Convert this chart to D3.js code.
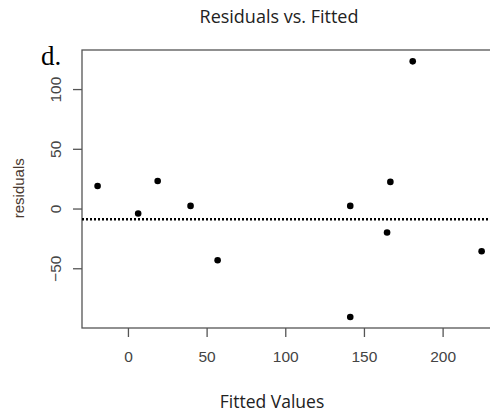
<!DOCTYPE html>
<html>
<head>
<meta charset="utf-8">
<style>
  body { margin: 0; background: #fff; }
  svg { display: block; }
</style>
</head>
<body>
<svg width="490" height="415"></svg>
<script src="https://d3js.org/d3.v7.min.js"></script>
<script>
// data
let fitted    = [-19.3, 6.5, 18.9, 39.8, 57.0, 141.3, 166.8, 164.7, 224.8, 181.0, 141.3]
let residuals = [18.9, -4.2, 23.1, 2.2, -43.3, 2.2, 22.3, -20.1, -35.8, 123.2, -90.8]
let xTicks = [0, 50, 100, 150, 200]
let yTicks = [-50, 0, 50, 100]
let refLine = -9

let svg = d3.select("svg")
let plotL = 82, plotR = 495, plotT = 50, plotB = 328

let x = d3.scaleLinear().domain([-29.2, 233.3]).range([plotL, plotR])
let y = d3.scaleLinear().domain([-100, 132.7]).range([plotB, plotT])

// title + panel letter
svg.append("text")
  .attr("x", 279).attr("y", 23)
  .attr("text-anchor", "middle")
  .style("font-family", "'Open Sans', sans-serif")
  .style("font-size", "18px")
  .style("fill", "#222")
  .text("Residuals vs. Fitted")

svg.append("text")
  .attr("x", 41).attr("y", 65)
  .style("font-family", "'Liberation Serif', 'DejaVu Serif', serif")
  .style("font-size", "27px")
  .style("fill", "#000")
  .text("d.")

// box
svg.append("rect")
  .attr("x", plotL).attr("y", plotT)
  .attr("width", plotR - plotL).attr("height", plotB - plotT)
  .style("fill", "none")
  .style("stroke", "#555")
  .style("stroke-width", 1.3)

// axes
let xAxis = svg.append("g")
  .attr("transform", `translate(0,${plotB})`)
  .call(d3.axisBottom(x).tickValues(xTicks).tickSize(9).tickPadding(14))
xAxis.select(".domain").remove()

let yAxis = svg.append("g")
  .attr("transform", `translate(${plotL},0)`)
  .call(d3.axisLeft(y).tickValues(yTicks).tickSize(9))
yAxis.select(".domain").remove()
yAxis.selectAll(".tick text")
  .attr("x", null).attr("dy", null)
  .attr("transform", "translate(-27,0) rotate(-90)")
  .attr("text-anchor", "middle")
  .attr("dominant-baseline", "central")

svg.selectAll(".tick line").style("stroke", "#555").style("stroke-width", 1.3)
svg.selectAll(".tick text")
  .style("font-family", "'Liberation Sans', Arial, sans-serif")
  .style("font-size", "15.5px")
  .style("fill", "#444")

// axis titles
svg.append("text")
  .attr("x", 272).attr("y", 408)
  .attr("text-anchor", "middle")
  .style("font-family", "'Open Sans', sans-serif")
  .style("font-size", "17.5px")
  .style("fill", "#222")
  .text("Fitted Values")

svg.append("text")
  .attr("transform", `translate(24,${y(17)}) rotate(-90)`)
  .attr("text-anchor", "middle")
  .style("font-family", "'Liberation Sans', Arial, sans-serif")
  .style("font-size", "15px")
  .style("fill", "#4a3a30")
  .text("residuals")

// reference line
svg.append("line")
  .attr("x1", plotL).attr("x2", 490)
  .attr("y1", y(refLine)).attr("y2", y(refLine))
  .style("stroke", "#000")
  .style("stroke-width", 2.4)
  .style("stroke-dasharray", "2,2")

// points
svg.append("g")
  .selectAll("circle")
  .data(fitted)
  .join("circle")
  .attr("cx", d => x(d))
  .attr("cy", (d, i) => y(residuals[i]))
  .attr("r", 3.3)
  .style("fill", "#000")
</script>
</body>
</html>
